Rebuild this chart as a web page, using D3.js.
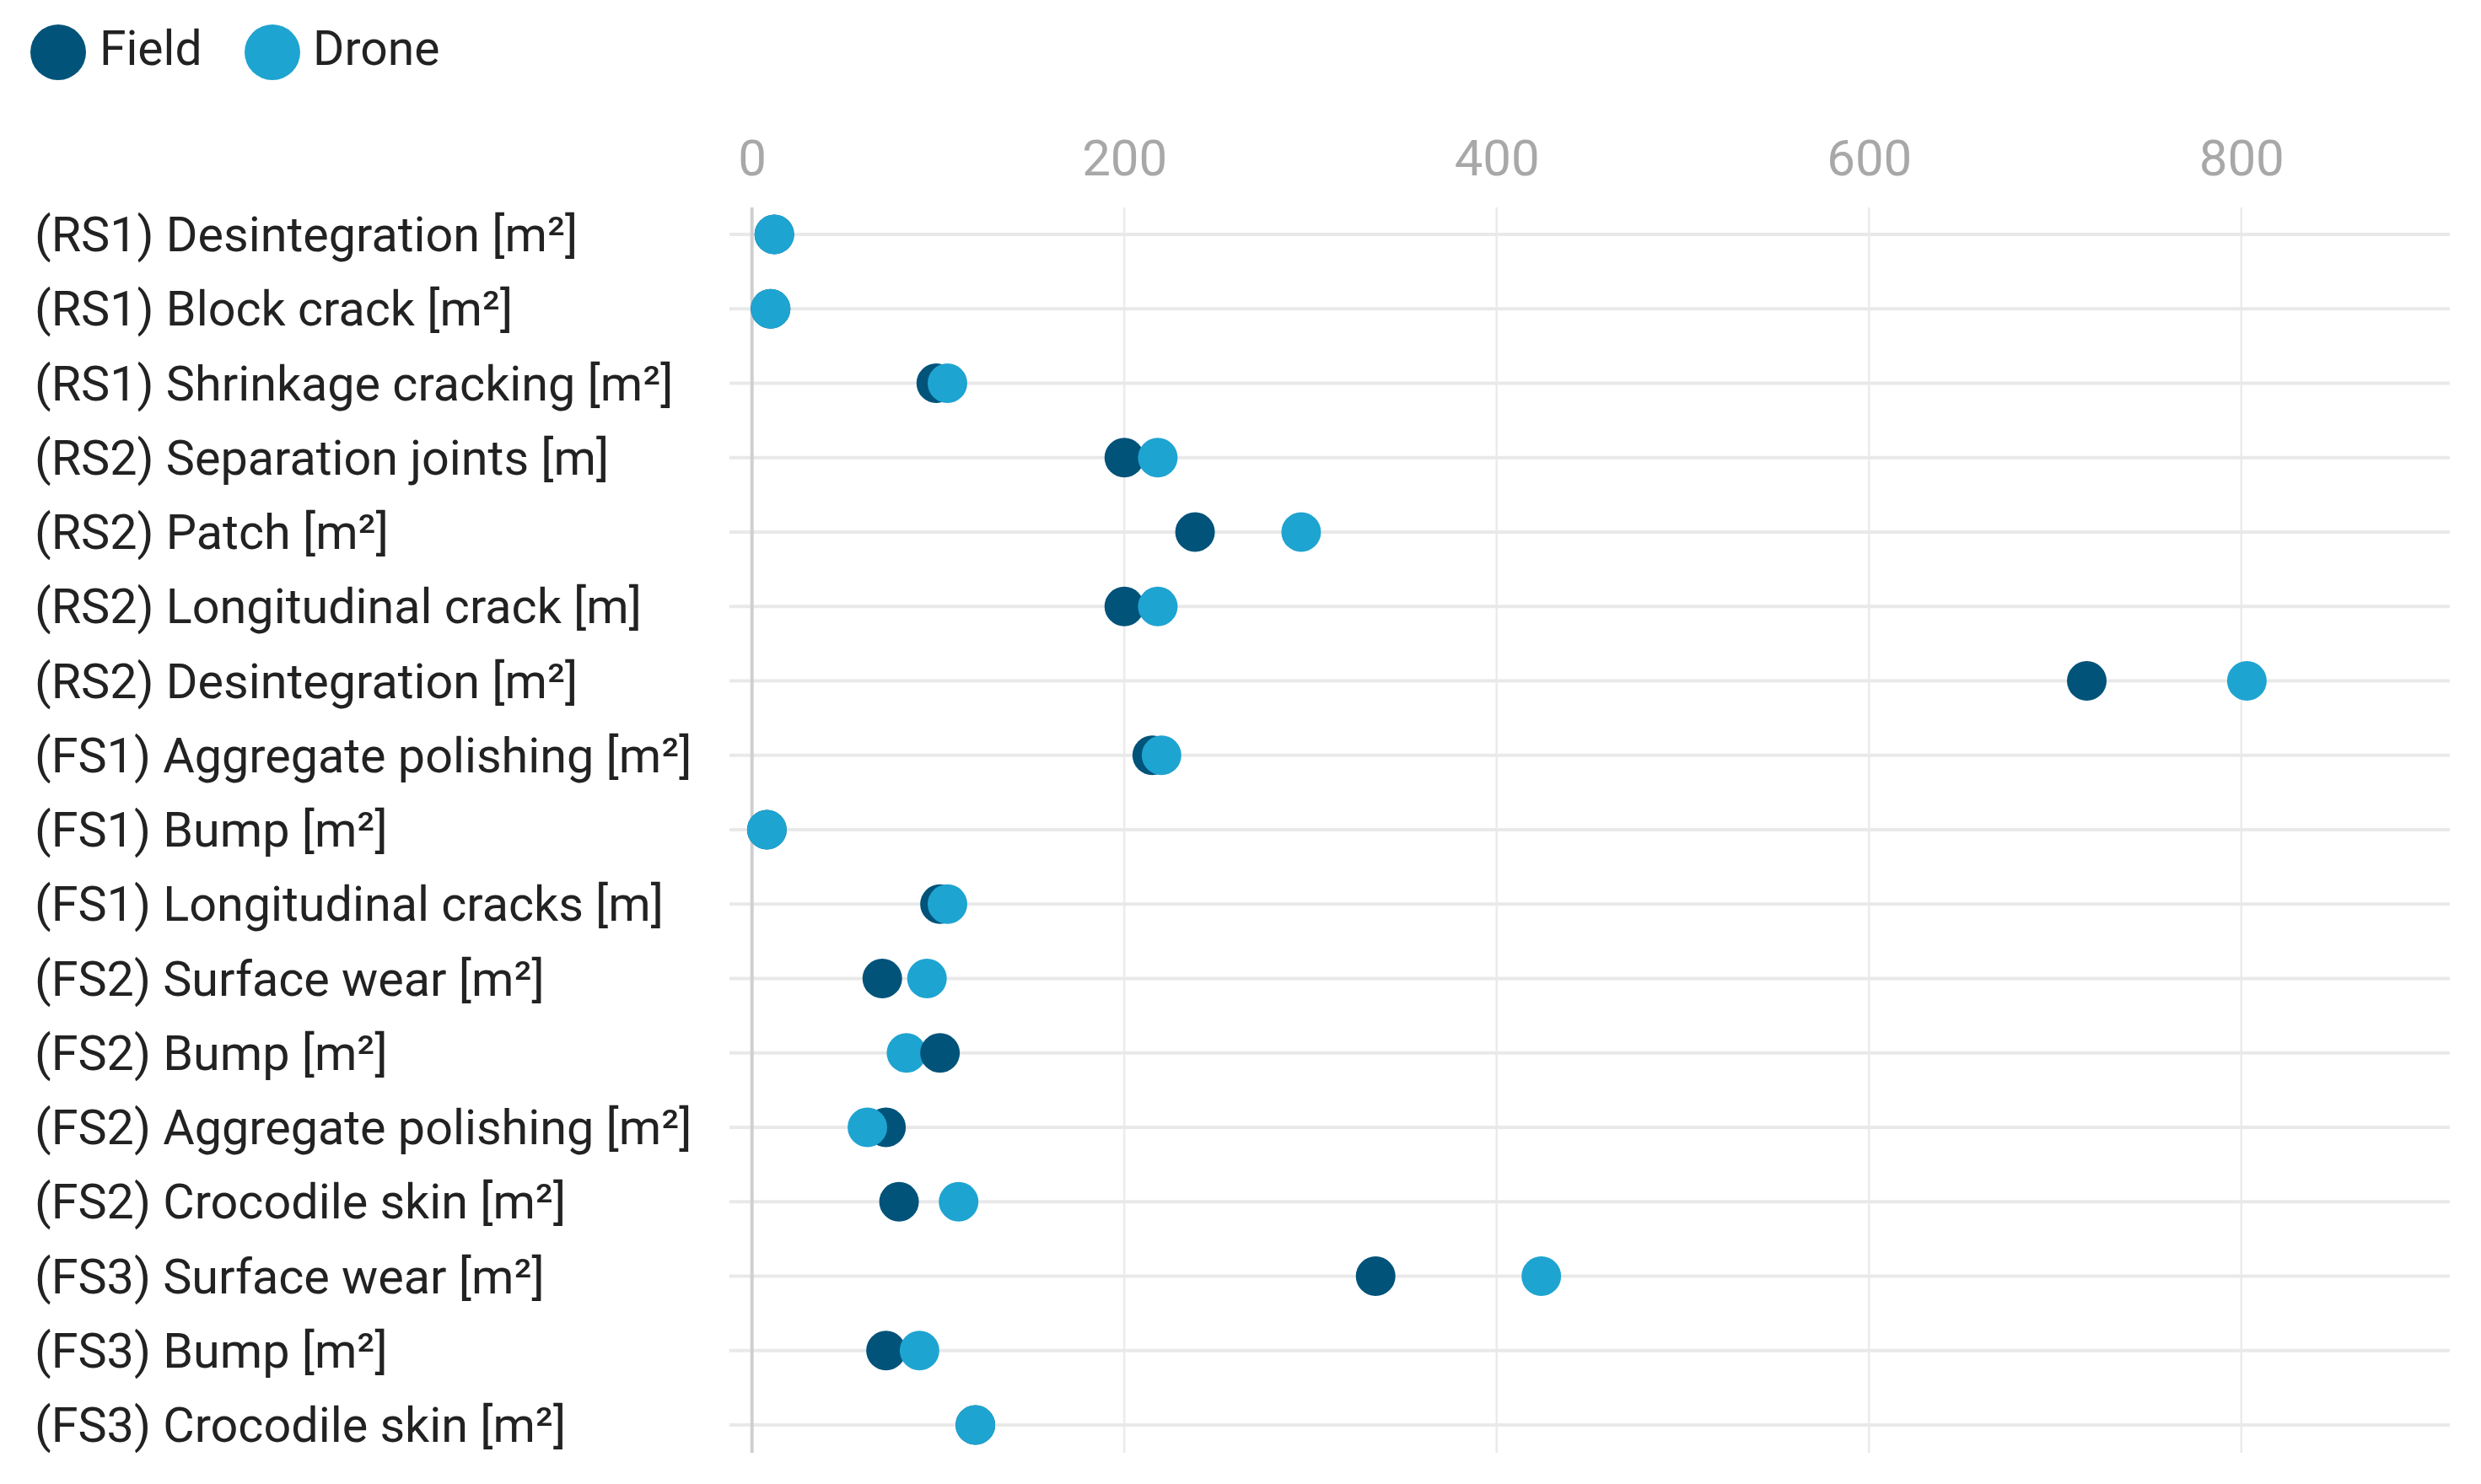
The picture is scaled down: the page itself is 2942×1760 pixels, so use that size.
<!DOCTYPE html>
<html>
<head>
<meta charset="utf-8">
<script src="https://cdn.jsdelivr.net/npm/d3@7"></script>
<style>
  html, body { margin: 0; padding: 0; background: #ffffff; }
  svg { display: block; }
  text { font-family: Roboto, "Noto Sans", sans-serif; }
</style>
</head>
<body>
<svg id="chart" width="2942" height="1760"></svg>
<script>
const categories = [
  "(RS1) Desintegration [m²]",
  "(RS1) Block crack [m²]",
  "(RS1) Shrinkage cracking [m²]",
  "(RS2) Separation joints [m]",
  "(RS2) Patch [m²]",
  "(RS2) Longitudinal crack [m]",
  "(RS2) Desintegration [m²]",
  "(FS1) Aggregate polishing [m²]",
  "(FS1) Bump [m²]",
  "(FS1) Longitudinal cracks [m]",
  "(FS2) Surface wear [m²]",
  "(FS2) Bump [m²]",
  "(FS2) Aggregate polishing [m²]",
  "(FS2) Crocodile skin [m²]",
  "(FS3) Surface wear [m²]",
  "(FS3) Bump [m²]",
  "(FS3) Crocodile skin [m²]"
];
const fieldValues = [12, 10, 99, 200, 238, 200, 717, 215, 8, 101, 70, 101, 72, 79, 335, 72, 120];
const droneValues = [12, 10, 105, 218, 295, 218, 803, 220, 8, 105, 94, 83, 62, 111, 424, 90, 120];
const seriesNames = ["Field", "Drone"];
const tickValues = [0, 200, 400, 600, 800];
const fieldOnTop = ["(FS2) Bump [m²]"];

const colors = { Field: "#01537a", Drone: "#1ea4d1" };

const svg = d3.select("#chart");
const x = d3.scaleLinear().domain([0, 912]).range([891.7, 2905]);
const y = d3.scalePoint().domain(categories).range([278, 1690]);
const plotTop = 246, plotBottom = 1723;

// legend
const legend = svg.append("g");
const legendPos = [{cx: 69, tx: 118}, {cx: 323, tx: 371}];
seriesNames.forEach((s, i) => {
  legend.append("circle").attr("cx", legendPos[i].cx).attr("cy", 62).attr("r", 33).attr("fill", colors[s]);
  legend.append("text").attr("x", legendPos[i].tx).attr("y", 77)
    .attr("font-size", 57).attr("fill", "#222").text(s);
});

// vertical grid lines
svg.append("g").selectAll("line").data(tickValues.filter(d => d !== 0)).join("line")
  .attr("x1", d => x(d)).attr("x2", d => x(d))
  .attr("y1", plotTop).attr("y2", plotBottom)
  .attr("stroke", "#ebebeb").attr("stroke-width", 2.5);

// horizontal grid lines
svg.append("g").selectAll("line").data(categories).join("line")
  .attr("x1", 865).attr("x2", x.range()[1])
  .attr("y1", d => y(d)).attr("y2", d => y(d))
  .attr("stroke", "#e9e9e9").attr("stroke-width", 4);

// zero axis line
svg.append("line")
  .attr("x1", x(0)).attr("x2", x(0)).attr("y1", plotTop).attr("y2", plotBottom)
  .attr("stroke", "#cfcfcf").attr("stroke-width", 4);

// top axis tick labels
const xAxis = d3.axisTop(x).tickValues(tickValues).tickSize(0).tickPadding(0);
const axisG = svg.append("g").attr("transform", "translate(0,208)").call(xAxis);
axisG.select(".domain").remove();
axisG.selectAll("text")
  .attr("font-size", 60).attr("fill", "#a8a8a8")
  .attr("font-family", "Roboto, 'Noto Sans', sans-serif")
  .attr("dy", 0);

// category labels
svg.append("g").selectAll("text").data(categories).join("text")
  .attr("x", 41).attr("y", d => y(d) + 20)
  .attr("font-size", 57.5).attr("fill", "#222").text(d => d);

// dots
const points = [];
categories.forEach((c, i) => {
  const f = {cat: c, series: "Field", value: fieldValues[i]};
  const dr = {cat: c, series: "Drone", value: droneValues[i]};
  if (fieldOnTop.includes(c)) { points.push(dr, f); } else { points.push(f, dr); }
});
svg.append("g").selectAll("circle").data(points).join("circle")
  .attr("cx", d => x(d.value)).attr("cy", d => y(d.cat)).attr("r", 23.5)
  .attr("fill", d => colors[d.series]);
</script>
</body>
</html>
